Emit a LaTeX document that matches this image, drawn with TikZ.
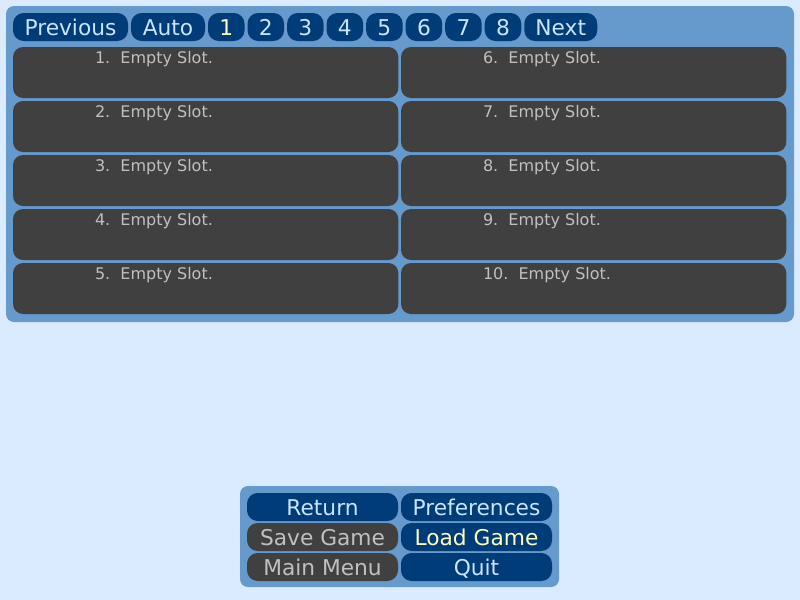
\documentclass[tikz,border=0pt]{standalone}
\usepackage{fontspec}
\setmainfont{DejaVu Sans}
\usepackage{tikz}
\usetikzlibrary{positioning}
\definecolor{bgblue}{HTML}{DBEBFF}
\definecolor{panelblue}{HTML}{6699CC}
\definecolor{btnblue}{HTML}{003C78}
\definecolor{slotgray}{HTML}{404040}
\definecolor{btntext}{HTML}{C8E4FF}
\definecolor{seltext}{HTML}{FFFFC0}
\definecolor{greytext}{HTML}{C0C0C0}
\tikzstyle{panel} = [rectangle, fill=panelblue, rounded corners=6pt]
\tikzstyle{btn} = [rectangle, fill=btnblue, text=btntext, rounded corners=8pt,
    minimum height=21pt, inner sep=0pt, text height=12pt, text depth=0pt,
    font=\fontsize{16.3pt}{18pt}\selectfont]
\tikzstyle{pagebtn} = [btn, minimum width=27.4pt]
\tikzstyle{menubtn} = [btn, minimum width=113.25pt]
\tikzstyle{offbtn} = [menubtn, fill=slotgray, text=greytext]
\tikzstyle{slot} = [rectangle, fill=slotgray, rounded corners=7.5pt,
    minimum width=289pt, minimum height=38.25pt, inner sep=0pt]
\tikzstyle{slottxt} = [anchor=base west, inner sep=0pt, text=greytext,
    font=\fontsize{12pt}{14pt}\selectfont]
\begin{document}
\begin{tikzpicture}[x=0.75pt, y=-0.75pt, node distance=2.25pt, every node/.style={outer sep=0pt}]
        % Background
    \fill [bgblue] (0,0) rectangle (800,600);
    \useasboundingbox (0,0) rectangle (800,600);
    \node [panel, anchor=north west, minimum width=591pt, minimum height=237pt] (top) at (6,6) {};
    \node [panel, anchor=north west, minimum width=239.25pt, minimum height=75.75pt] (menu) at (240,486) {};
        % Page buttons
    \node [btn, anchor=north west, minimum width=86.25pt] (prev) at (13,13) {Previous};
    \node [btn, right=of prev, minimum width=55.5pt] (auto) {Auto};
    \node [pagebtn, right=of auto, text=seltext] (p1) {1};
    \node [pagebtn, right=of p1] (p2) {2};
    \node [pagebtn, right=of p2] (p3) {3};
    \node [pagebtn, right=of p3] (p4) {4};
    \node [pagebtn, right=of p4] (p5) {5};
    \node [pagebtn, right=of p5] (p6) {6};
    \node [pagebtn, right=of p6] (p7) {7};
    \node [pagebtn, right=of p7] (p8) {8};
    \node [btn, right=of p8, minimum width=54.75pt] (next) {Next};
        % Slots
    \node [slot, anchor=north west] (s1) at (13,47) {};
    \node [slot, below=of s1] (s2) {};
    \node [slot, below=of s2] (s3) {};
    \node [slot, below=of s3] (s4) {};
    \node [slot, below=of s4] (s5) {};
    \node [slot, anchor=north west] (s6) at (401,47) {};
    \node [slot, below=of s6] (s7) {};
    \node [slot, below=of s7] (s8) {};
    \node [slot, below=of s8] (s9) {};
    \node [slot, below=of s9] (s10) {};
        % Slot texts
    \node [slottxt] (t1) at ([shift={(61.5pt,-12pt)}]s1.north west) {1.\ \ Empty Slot.};
    \node [slottxt] (t2) at ([shift={(61.5pt,-12pt)}]s2.north west) {2.\ \ Empty Slot.};
    \node [slottxt] (t3) at ([shift={(61.5pt,-12pt)}]s3.north west) {3.\ \ Empty Slot.};
    \node [slottxt] (t4) at ([shift={(61.5pt,-12pt)}]s4.north west) {4.\ \ Empty Slot.};
    \node [slottxt] (t5) at ([shift={(61.5pt,-12pt)}]s5.north west) {5.\ \ Empty Slot.};
    \node [slottxt] (t6) at ([shift={(61.5pt,-12pt)}]s6.north west) {6.\ \ Empty Slot.};
    \node [slottxt] (t7) at ([shift={(61.5pt,-12pt)}]s7.north west) {7.\ \ Empty Slot.};
    \node [slottxt] (t8) at ([shift={(61.5pt,-12pt)}]s8.north west) {8.\ \ Empty Slot.};
    \node [slottxt] (t9) at ([shift={(61.5pt,-12pt)}]s9.north west) {9.\ \ Empty Slot.};
    \node [slottxt] (t10) at ([shift={(61.5pt,-12pt)}]s10.north west) {10.\ \ Empty Slot.};
        % Menu buttons
    \node [menubtn, anchor=north west] (ret) at (247,493) {Return};
    \node [menubtn, right=of ret] (pref) {Preferences};
    \node [offbtn, below=1.5pt of ret] (save) {Save Game};
    \node [menubtn, below=1.5pt of pref, text=seltext] (load) {Load Game};
    \node [offbtn, below=1.5pt of save] (main) {Main Menu};
    \node [menubtn, below=1.5pt of load] (quit) {Quit};
\end{tikzpicture}
\end{document}
